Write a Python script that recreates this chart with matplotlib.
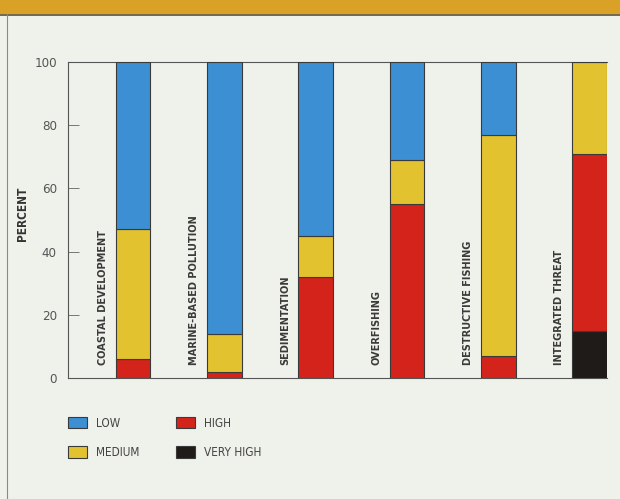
import matplotlib
matplotlib.use("Agg")
import matplotlib.pyplot as plt
import numpy as np
from matplotlib.patches import Rectangle
from matplotlib.lines import Line2D

categories = ["COASTAL DEVELOPMENT", "MARINE-BASED POLLUTION", "SEDIMENTATION",
              "OVERFISHING", "DESTRUCTIVE FISHING", "INTEGRATED THREAT"]
very_high = [0, 0, 0, 0, 0, 15]
high = [6, 2, 32, 55, 7, 56]
medium = [41, 12, 13, 14, 70, 29]
low = [53, 86, 55, 31, 23, 0]
yticks = [0, 20, 40, 60, 80, 100]
series_names = ["LOW", "MEDIUM", "HIGH", "VERY HIGH"]

colors = {"LOW": "#3b8fd2", "MEDIUM": "#e3c230", "HIGH": "#d3231b", "VERY HIGH": "#1f1b19"}
edge = "#3a3a3a"
bg = "#eff1eb"

plt.rcParams['font.family'] = ['DejaVu Sans']
plt.rcParams['font.stretch'] = 'condensed'

fig = plt.figure(figsize=(6.2, 4.99), dpi=100, facecolor=bg)
W, H = 620, 499
ax = fig.add_axes([68 / W, (H - 378) / H, (607 - 68) / W, (378 - 62) / H])
ax.set_facecolor(bg)

x = np.arange(len(categories))
bw = 0.38
vh = np.array(very_high); hi = np.array(high); me = np.array(medium); lo = np.array(low)
bars = {}
bottom = np.zeros(len(categories))
for name, vals in [("VERY HIGH", vh), ("HIGH", hi), ("MEDIUM", me), ("LOW", lo)]:
    bars[name] = ax.bar(x, vals, bw, bottom=bottom, color=colors[name],
                        edgecolor=edge, linewidth=0.8, label=name, zorder=3)
    bottom = bottom + vals

ax.set_xlim(-0.71, 5.0 + bw / 2)
ax.set_ylim(0, 100)
ax.set_yticks(yticks)
ax.set_xticks([])
ax.tick_params(axis='y', direction='in', length=8, width=0.7, color='#777777',
               labelcolor='#555555', labelsize=9.5, pad=8)
for s in ['top', 'bottom', 'left', 'right']:
    ax.spines[s].set_color('#555555')
    ax.spines[s].set_linewidth(0.8)
ax.spines['right'].set_visible(False)

ax.set_ylabel("PERCENT", fontsize=8.5, fontweight='bold', color='#333333')
ax.yaxis.set_label_coords((29 - 68) / 539, 0.52)

for xi, cat in zip(x, categories):
    ax.text(xi - 0.33, 4, cat, rotation=90, ha='center', va='bottom',
            fontsize=7.8, fontweight='bold', color='#3a3a3a', zorder=4)

handles = [bars[n] for n in series_names]
leg = fig.legend(handles, series_names, loc='upper left',
                 bbox_to_anchor=(57 / W, 1 - 406 / H), ncol=2, frameon=False,
                 fontsize=8.5, handlelength=1.6, handleheight=1.1,
                 handletextpad=0.8, columnspacing=3.1, labelspacing=1.4,
                 labelcolor='#444444')

# decorative top band and left border
fig.patches.append(Rectangle((0, 1 - 14 / H), 1, 14 / H, transform=fig.transFigure,
                             facecolor='#d9a227', edgecolor='none', zorder=0))
fig.lines.append(Line2D([0, 1], [1 - 14.5 / H, 1 - 14.5 / H], transform=fig.transFigure,
                        color='#5e5030', linewidth=1.2))
fig.lines.append(Line2D([7 / W, 7 / W], [0, 1 - 14 / H], transform=fig.transFigure,
                        color='#888888', linewidth=0.8))

fig.savefig("out.png", dpi=100, facecolor=bg)
